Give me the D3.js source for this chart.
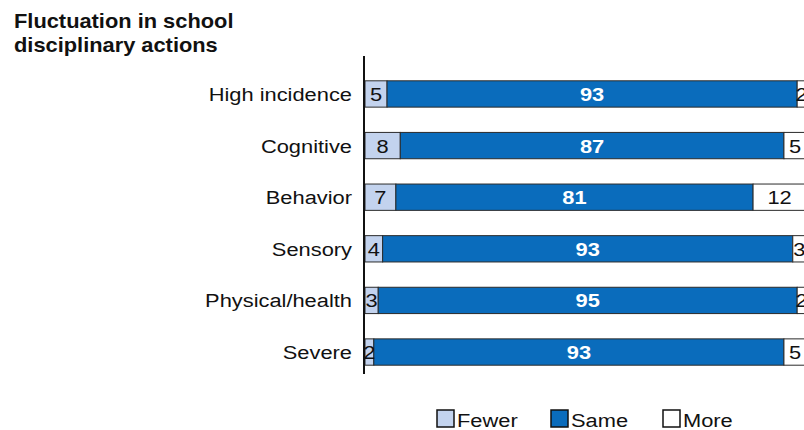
<!DOCTYPE html>
<html>
<head>
<meta charset="utf-8">
<script src="https://cdn.jsdelivr.net/npm/d3@7"></script>
<style>
  html, body { margin: 0; padding: 0; background: #fff; }
  svg { display: block; font-family: "Liberation Sans", Arial, sans-serif; }
</style>
</head>
<body>
<svg id="chart" width="804" height="430"></svg>
<script>
// Disability categories and the share of schools reporting each change
const categories = ["High incidence", "Cognitive", "Behavior", "Sensory", "Physical/health", "Severe"];
const fewer = [5, 8, 7, 4, 3, 2];
const same  = [93, 87, 81, 93, 95, 93];
const more  = [2, 5, 12, 3, 2, 5];
const seriesNames = ["Fewer", "Same", "More"];
const colors = ["#c3d3ee", "#0a6cbc", "#ffffff"];

// Type is set slightly wide, as in the original publication layout
const STRETCH = 1.15;

const svg = d3.select("#chart");

const x = d3.scaleLinear().domain([0, 100]).range([365, 806]);
const y = d3.scaleBand().domain(categories).range([55, 391]).paddingInner(0.49).paddingOuter(0.5);

function wideText(sel, px, py, s = STRETCH) {
  return sel.attr("transform", `translate(${px},${py}) scale(${s},1)`);
}

// Title
const titleLines = ["Fluctuation in school", "disciplinary actions"];
svg.append("g").selectAll("text")
  .data(titleLines).join("text")
  .each(function(d, i) { wideText(d3.select(this), 14, 28 + i * 24, 1.12); })
  .attr("font-size", 19.5).attr("font-weight", "bold").attr("fill", "#111")
  .text(d => d);

// Build stacked rows
const rows = categories.map((c, i) => ({ cat: c, Fewer: fewer[i], Same: same[i], More: more[i] }));
const stack = d3.stack().keys(seriesNames)(rows);

const layers = svg.append("g").selectAll("g")
  .data(stack).join("g")
  .attr("fill", (d, i) => colors[i]);

layers.selectAll("rect")
  .data(d => d)
  .join("rect")
  .attr("x", d => x(d[0]))
  .attr("y", d => y(d.data.cat))
  .attr("width", d => x(d[1]) - x(d[0]))
  .attr("height", y.bandwidth())
  .attr("stroke", "#2b2b2b")
  .attr("stroke-width", 1);

// Value labels centred in each segment
stack.forEach((layer, li) => {
  svg.append("g").selectAll("text")
    .data(layer).join("text")
    .each(function(d) {
      wideText(d3.select(this), (x(d[0]) + x(d[1])) / 2, y(d.data.cat) + y.bandwidth() / 2 + 7);
    })
    .attr("text-anchor", "middle")
    .attr("font-size", 19)
    .attr("font-weight", li === 1 ? "bold" : "normal")
    .attr("fill", li === 1 ? "#ffffff" : "#111")
    .text(d => d[1] - d[0]);
});

// Category labels
svg.append("g").selectAll("text")
  .data(y.domain()).join("text")
  .each(function(d) { wideText(d3.select(this), 352, y(d) + y.bandwidth() / 2 + 7); })
  .attr("text-anchor", "end")
  .attr("font-size", 19)
  .attr("fill", "#111")
  .text(d => d);

// Vertical axis line
svg.append("line")
  .attr("x1", 364).attr("x2", 364)
  .attr("y1", 56).attr("y2", 374)
  .attr("stroke", "#111").attr("stroke-width", 2);

// Legend
const legendX = [437, 551, 663];
const legend = svg.append("g").selectAll("g")
  .data(seriesNames).join("g")
  .attr("transform", (d, i) => `translate(${legendX[i]},410)`);
legend.append("rect")
  .attr("width", 17).attr("height", 17)
  .attr("fill", (d, i) => colors[i])
  .attr("stroke", "#111").attr("stroke-width", 1.5);
legend.append("text")
  .attr("transform", `translate(20,16.5) scale(${STRETCH},1)`)
  .attr("font-size", 19).attr("fill", "#111")
  .text(d => d);
</script>
</body>
</html>
